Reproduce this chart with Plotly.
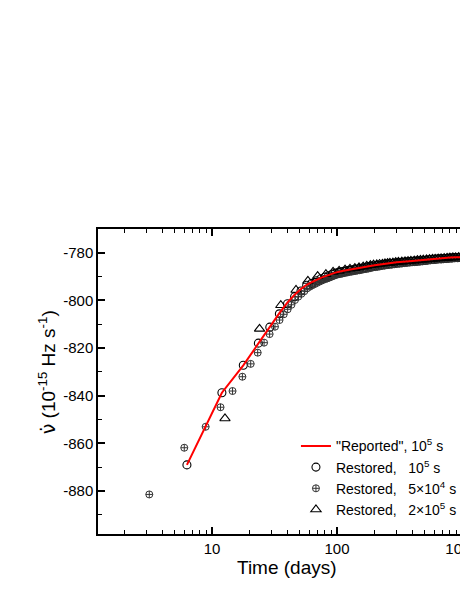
import plotly.graph_objects as go

# ---- data ----
rep_t = [6.3, 12.0, 17.8, 23.5, 29.0, 34.6, 40.2, 45.8, 51.5, 57.2, 62.9, 68.6, 74.3, 80.0,
         85.7, 91.4, 97.1, 110, 125, 150, 175, 200, 250, 300, 400, 500, 600, 700, 800, 900,
         1000, 1100]
rep_v = [-869, -838.7, -827.2, -818.0, -811.0, -805.3, -800.8, -797.6, -795.2, -793.4, -792.3,
         -791.3, -790.5, -789.9, -789.3, -788.8, -788.3, -787.6, -787.0, -786.3, -785.7, -785.2,
         -784.5, -784.0, -783.4, -782.9, -782.5, -782.2, -782.0, -781.9, -781.8, -781.7]

circ_t = [6.3, 12.0, 17.8, 23.5, 29.0, 34.6, 40.2, 45.8, 51.5, 57.2, 62.9, 68.6, 74.3, 80.0,
          85.7, 91.4, 97.1, 103, 108, 113, 119, 125, 131, 138, 145, 152, 160, 168, 176, 185,
          194, 204, 214, 225, 236, 248, 260, 273, 287, 301, 316, 332, 349, 366, 384, 403, 423,
          444, 466, 489, 514, 540, 567, 595, 625, 656, 689, 723, 759, 797, 837, 879, 923, 969,
          1017, 1068]
circ_v = [-869, -838.7, -827.2, -817.9, -811.2, -805.6, -801.4, -798.4, -796.0, -793.6, -792.8,
          -791.7, -790.9, -790.2, -789.6, -789.0, -788.5, -788.2, -788.0, -787.8, -787.5, -787.3,
          -787.2, -786.9, -786.8, -786.6, -786.4, -786.2, -785.9, -785.7, -785.5, -785.4, -785.2,
          -785.1, -784.9, -784.8, -784.6, -784.5, -784.4, -784.2, -784.1, -784.0, -783.9, -783.8,
          -783.7, -783.6, -783.5, -783.4, -783.3, -783.2, -783.1, -782.9, -782.8, -782.7, -782.6,
          -782.5, -782.5, -782.4, -782.3, -782.2, -782.1, -782.0, -782.0, -781.9, -781.8, -781.8]

dia_t = [3.15, 6.0, 8.9, 11.7, 14.6, 17.5, 20.4, 23.2, 26.1, 28.9, 31.9, 34.7, 37.5, 40.3, 43.2,
         46.1, 49.0, 51.9, 54.8, 57.7, 60.6, 63.5, 66.4, 69.3, 72.2, 75.1, 78.0, 80.9, 83.8, 86.7,
         89.6, 92.5, 95.4, 98.3, 101, 104, 107, 110, 114, 118, 122, 126, 131, 136, 141, 146, 152,
         158, 164, 171, 178, 186, 194, 202, 211, 220, 230, 240, 251, 262, 274, 287, 300, 315, 330,
         346, 362, 380, 398, 418, 438, 460, 483, 507, 532, 558, 586, 615, 646, 678, 712, 748, 785,
         824, 865, 908, 953, 1001, 1051, 1100]
dia_v = [-881.4, -861.8, -853.0, -844.8, -838.0, -832.0, -826.6, -821.9, -817.7, -814.1, -811.0,
         -808.2, -805.8, -803.7, -801.8, -799.8, -798.4, -797.2, -796.1, -794.9, -794.2, -793.6,
         -793.1, -792.6, -792.1, -791.7, -791.3, -791.0, -790.7, -790.4, -790.1, -789.8, -789.5,
         -789.2, -789.1, -788.9, -788.8, -788.7, -788.5, -788.3, -788.2, -788.0, -787.9, -787.7,
         -787.6, -787.4, -787.3, -787.1, -786.9, -786.8, -786.6, -786.4, -786.1, -786.0, -785.9,
         -785.7, -785.5, -785.4, -785.2, -785.1, -785.0, -784.8, -784.7, -784.6, -784.5, -784.3,
         -784.2, -784.1, -784.0, -783.9, -783.8, -783.7, -783.6, -783.4, -783.3, -783.2, -783.1,
         -783.0, -782.8, -782.8, -782.7, -782.6, -782.5, -782.4, -782.3, -782.2, -782.1, -782.0,
         -782.0, -781.9]

tri_t = [12.7, 24.0, 35.5, 47.0, 58.5, 70.0, 81.5, 93.0, 104, 116, 127, 139, 150, 162, 173, 185,
         196, 208, 219, 231, 242, 254, 265, 280, 295, 310, 330, 350, 370, 390, 415, 440, 465, 490,
         520, 550, 580, 610, 645, 680, 720, 760, 800, 845, 890, 940, 990, 1040, 1090]
tri_v = [-849.5, -811.9, -802.0, -795.6, -791.8, -789.8, -789.0, -788.0, -787.6, -787.1, -786.7,
         -786.4, -786.1, -785.8, -785.5, -785.2, -785.0, -784.9, -784.7, -784.6, -784.4, -784.3,
         -784.2, -784.1, -783.9, -783.8, -783.7, -783.6, -783.5, -783.4, -783.3, -783.1, -783.0,
         -782.9, -782.8, -782.7, -782.6, -782.5, -782.4, -782.3, -782.2, -782.1, -782.0, -781.9,
         -781.9, -781.8, -781.7, -781.7, -781.6]

x_tickvals = [10, 100, 1000]
x_ticktext = ["10", "100", "1000"]
x_minor = [2, 3, 4, 5, 6, 7, 8, 9, 20, 30, 40, 50, 60, 70, 80, 90,
           200, 300, 400, 500, 600, 700, 800, 900]
y_tickvals = [-880, -860, -840, -820, -800, -780]
y_ticktext = ["-880", "-860", "-840", "-820", "-800", "-780"]

names = ['"Reported", 10<sup>5</sup> s',
         'Restored,\u00a0\u00a0 10<sup>5</sup> s',
         'Restored,\u00a0\u00a0 5\u00d710<sup>4</sup> s',
         'Restored,\u00a0\u00a0 2\u00d710<sup>5</sup> s']

FONT = "Liberation Sans, Arial, sans-serif"

fig = go.Figure()
fig.add_trace(go.Scatter(x=circ_t, y=circ_v, mode="markers", name=names[1], legendrank=2,
                         marker=dict(symbol="circle-open", size=8, color="#000000",
                                     line=dict(width=1.1))))
fig.add_trace(go.Scatter(x=dia_t, y=dia_v, mode="markers", name=names[2], legendrank=3,
                         marker=dict(symbol="circle-cross-open", size=7, color="#333333",
                                     line=dict(width=1))))
fig.add_trace(go.Scatter(x=tri_t, y=tri_v, mode="markers", name=names[3], legendrank=4,
                         marker=dict(symbol="triangle-up-open", size=9, color="#000000",
                                     line=dict(width=1.1))))
fig.add_trace(go.Scatter(x=rep_t, y=rep_v, mode="lines", name=names[0], legendrank=1,
                         line=dict(color="#ff0000", width=2)))

axis_common = dict(showgrid=False, zeroline=False, ticks="inside", ticklen=7, tickwidth=1.5,
                   tickcolor="black", automargin=False,
                   tickfont=dict(family=FONT, size=15, color="black"))

fig.update_layout(
    width=460, height=589,
    margin=dict(l=90, r=0, t=221, b=63, autoexpand=False),
    paper_bgcolor="white", plot_bgcolor="white",
    font=dict(family=FONT, color="black"),
    xaxis=dict(type="log", range=[0.088, 3.048], tickmode="array",
               tickvals=x_tickvals, ticktext=x_ticktext, ticklabeloverflow="allow",
               showline=True, linewidth=1.5, linecolor="black", mirror="ticks",
               minor=dict(tickmode="array", tickvals=x_minor, ticks="inside", ticklen=4,
                          tickwidth=1.2, tickcolor="black", showgrid=False),
               **axis_common),
    yaxis=dict(range=[-898, -770], tickmode="array", tickvals=y_tickvals,
               ticktext=y_ticktext,
               showline=True, linewidth=1.5, linecolor="black",
               minor=dict(dtick=10, tick0=-780, ticks="inside", ticklen=4, tickwidth=1.2,
                          tickcolor="black", showgrid=False),
               **axis_common),
    yaxis2=dict(range=[-898, -770], tickmode="array", tickvals=y_tickvals,
                overlaying="y", side="right", automargin=False,
                anchor="x", showline=False, showticklabels=False, showgrid=False,
                zeroline=False, ticks="inside", ticklen=7, tickwidth=1.5, tickcolor="black",
                minor=dict(dtick=10, tick0=-780, ticks="inside", ticklen=4, tickwidth=1.2,
                           tickcolor="black", showgrid=False)),
    legend=dict(x=0.535, y=0.34, xanchor="left", yanchor="top", bgcolor="rgba(0,0,0,0)",
                font=dict(family=FONT, size=14, color="black"), tracegroupgap=0),
    showlegend=True,
    annotations=[
        dict(text="<span style=\"font-family:DejaVu Sans\">\u03bd\u0307</span> (10<sup>-15</sup> Hz s<sup>-1</sup>)",
             xref="paper", yref="paper",
             x=-0.138, y=0.53, xanchor="center", yanchor="middle", textangle=-90,
             showarrow=False, font=dict(family=FONT, size=19, color="black")),
        dict(text="Time (days)", xref="paper", yref="paper", x=0.511, y=-0.111,
             xanchor="center", yanchor="middle", showarrow=False,
             font=dict(family=FONT, size=19, color="black")),
    ],
)

fig.write_html("out.html")
